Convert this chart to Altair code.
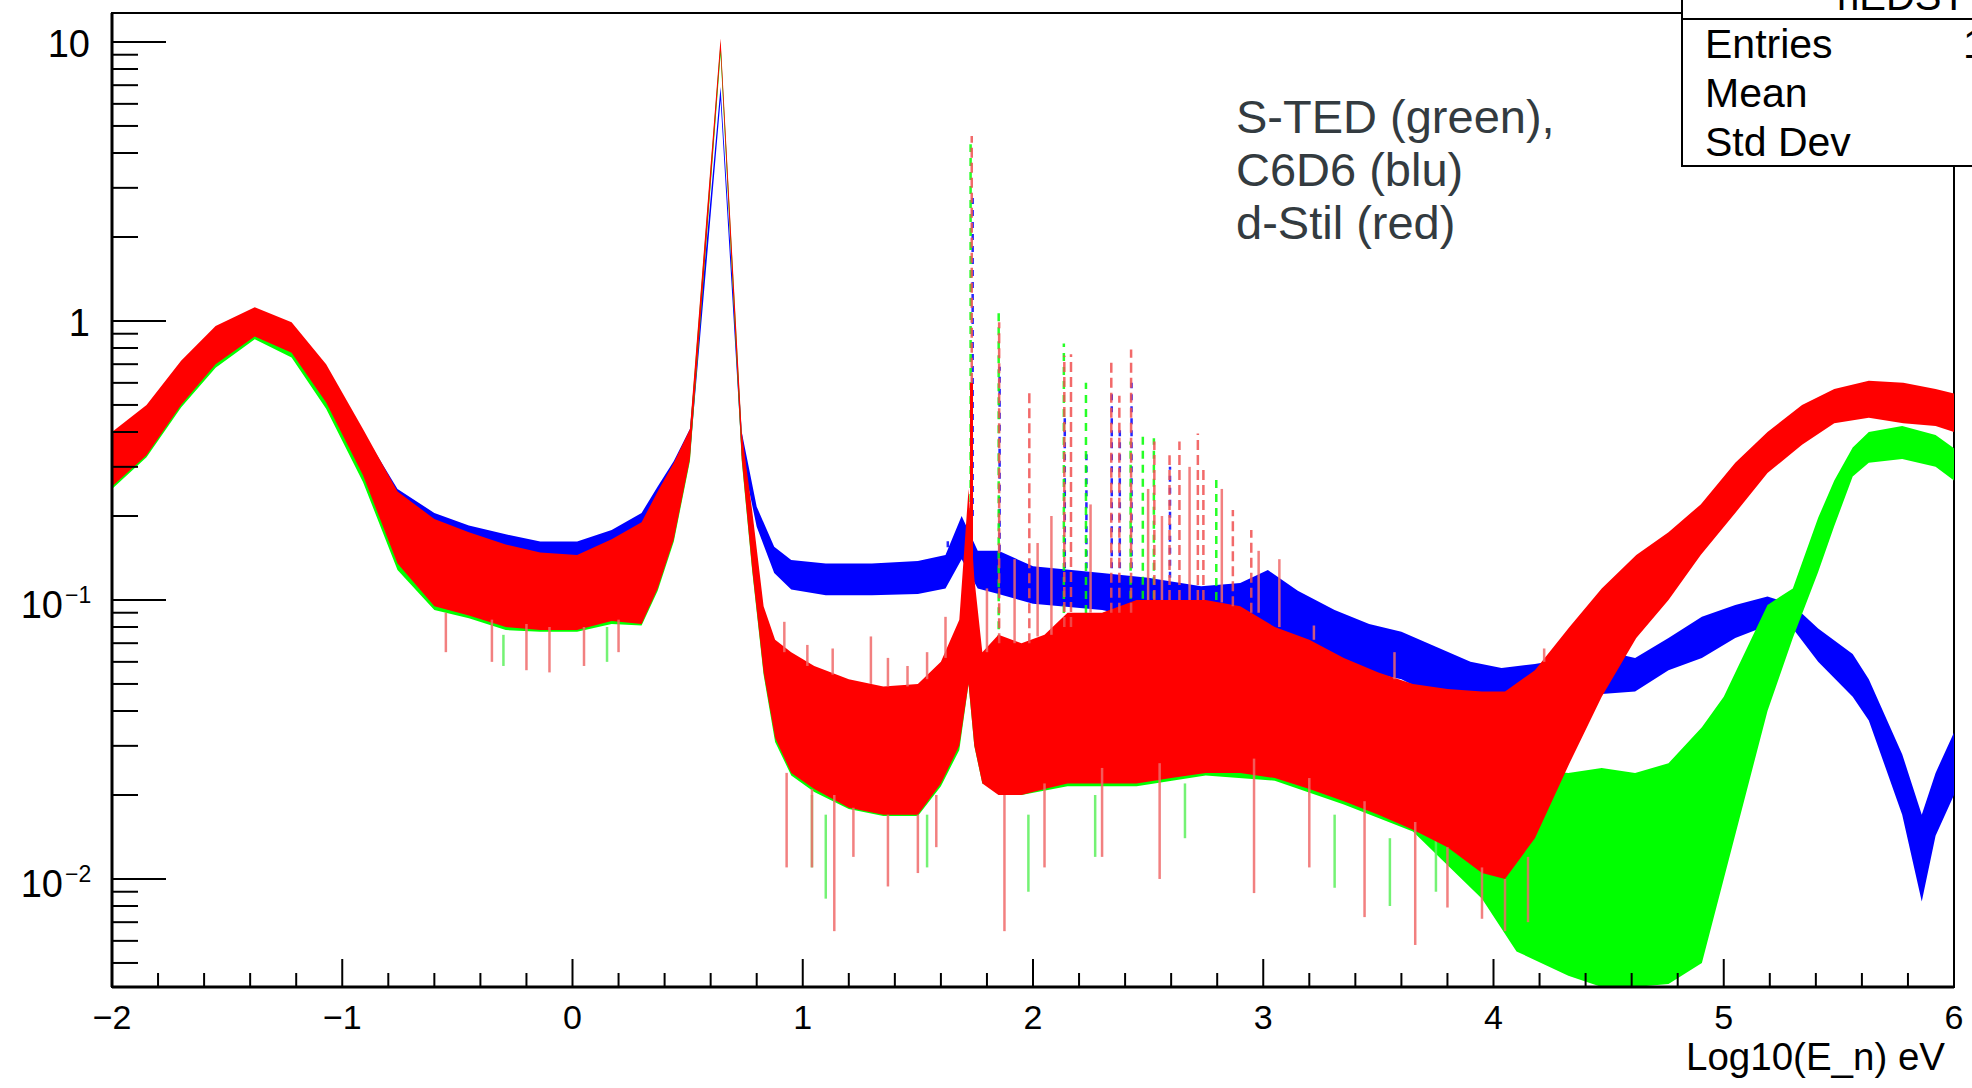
import altair as alt
import pandas as pd

# ---------------- data ----------------
# d-Stil (red): x = log10(E_n), band lower / upper edge
red_x  = [-2.00, -1.85, -1.70, -1.55, -1.38, -1.22, -1.07, -0.91, -0.76, -0.60, -0.45, -0.29, -0.14, 0.02, 0.17, 0.30, 0.37, 0.44, 0.51, 0.643, 0.735, 0.78, 0.83, 0.88, 0.95, 1.05, 1.20, 1.35, 1.50, 1.60, 1.68, 1.72, 1.745, 1.78, 1.85, 1.95, 2.05, 2.15, 2.30, 2.45, 2.60, 2.75, 2.90, 3.05, 3.20, 3.35, 3.50, 3.65, 3.80, 3.95, 4.05, 4.18, 4.33, 4.47, 4.62, 4.76, 4.90, 5.05, 5.19, 5.34, 5.48, 5.63, 5.78, 5.92, 6.00]
red_lo = [0.255, 0.33, 0.50, 0.70, 0.88, 0.77, 0.51, 0.28, 0.135, 0.095, 0.088, 0.080, 0.078, 0.078, 0.084, 0.082, 0.11, 0.165, 0.32, 9.3, 0.32, 0.13, 0.055, 0.032, 0.024, 0.021, 0.018, 0.017, 0.017, 0.022, 0.030, 0.05, 0.03, 0.022, 0.020, 0.020, 0.021, 0.022, 0.022, 0.022, 0.023, 0.024, 0.024, 0.023, 0.021, 0.019, 0.017, 0.015, 0.013, 0.0105, 0.0100, 0.014, 0.026, 0.045, 0.073, 0.10, 0.145, 0.205, 0.285, 0.36, 0.43, 0.45, 0.43, 0.42, 0.40]
red_hi = [0.40, 0.50, 0.72, 0.96, 1.12, 0.99, 0.70, 0.41, 0.245, 0.195, 0.175, 0.158, 0.148, 0.145, 0.165, 0.19, 0.245, 0.31, 0.41, 10.3, 0.40, 0.21, 0.095, 0.072, 0.065, 0.058, 0.052, 0.049, 0.050, 0.060, 0.085, 0.25, 0.12, 0.065, 0.075, 0.070, 0.075, 0.090, 0.090, 0.100, 0.100, 0.100, 0.095, 0.080, 0.072, 0.062, 0.055, 0.050, 0.048, 0.047, 0.047, 0.056, 0.080, 0.110, 0.145, 0.175, 0.22, 0.31, 0.40, 0.50, 0.57, 0.61, 0.60, 0.57, 0.55]

# C6D6 (blue)
blue_x  = [-2.00, -1.85, -1.70, -1.55, -1.38, -1.22, -1.07, -0.91, -0.76, -0.60, -0.45, -0.29, -0.14, 0.02, 0.17, 0.30, 0.37, 0.44, 0.51, 0.643, 0.735, 0.80, 0.876, 0.95, 1.10, 1.30, 1.50, 1.62, 1.69, 1.76, 1.85, 2.00, 2.30, 2.50, 2.73, 2.90, 3.02, 3.15, 3.31, 3.46, 3.60, 3.75, 3.90, 4.035, 4.18, 4.33, 4.47, 4.615, 4.76, 4.905, 5.05, 5.19, 5.30, 5.41, 5.56, 5.63, 5.775, 5.86, 5.92, 6.00]
blue_lo = [0.27, 0.34, 0.52, 0.72, 0.90, 0.78, 0.52, 0.30, 0.19, 0.155, 0.14, 0.13, 0.122, 0.123, 0.135, 0.16, 0.20, 0.25, 0.33, 6.2, 0.33, 0.183, 0.125, 0.109, 0.104, 0.104, 0.105, 0.11, 0.14, 0.11, 0.105, 0.097, 0.092, 0.085, 0.080, 0.080, 0.082, 0.068, 0.060, 0.055, 0.052, 0.045, 0.042, 0.041, 0.043, 0.045, 0.046, 0.047, 0.056, 0.062, 0.073, 0.081, 0.079, 0.060, 0.045, 0.037, 0.017, 0.0083, 0.0143, 0.020]
blue_hi = [0.39, 0.48, 0.70, 0.95, 1.10, 0.97, 0.68, 0.40, 0.25, 0.205, 0.185, 0.172, 0.162, 0.162, 0.178, 0.205, 0.255, 0.315, 0.41, 6.9, 0.40, 0.216, 0.155, 0.139, 0.135, 0.135, 0.138, 0.145, 0.20, 0.15, 0.15, 0.132, 0.125, 0.12, 0.112, 0.115, 0.128, 0.108, 0.092, 0.082, 0.077, 0.068, 0.060, 0.057, 0.059, 0.062, 0.066, 0.062, 0.073, 0.087, 0.096, 0.103, 0.096, 0.079, 0.064, 0.052, 0.028, 0.017, 0.024, 0.0335]

# S-TED (green) - mostly hidden below red except above 4
green_x  = [-2.00, -1.85, -1.70, -1.55, -1.38, -1.22, -1.07, -0.91, -0.76, -0.60, -0.45, -0.29, -0.14, 0.02, 0.17, 0.30, 0.37, 0.44, 0.51, 0.643, 0.735, 0.78, 0.83, 0.88, 0.95, 1.05, 1.20, 1.35, 1.50, 1.60, 1.68, 1.72, 1.745, 1.78, 1.95, 2.15, 2.45, 2.75, 3.05, 3.35, 3.65, 3.95, 4.10, 4.325, 4.47, 4.615, 4.76, 4.905, 5.00, 5.19, 5.30, 5.41, 5.48, 5.56, 5.63, 5.775, 5.92, 6.00]
green_lo = [0.25, 0.325, 0.49, 0.68, 0.86, 0.74, 0.485, 0.265, 0.128, 0.092, 0.086, 0.078, 0.077, 0.077, 0.082, 0.081, 0.108, 0.162, 0.315, 9.0, 0.315, 0.128, 0.054, 0.031, 0.0235, 0.0205, 0.0178, 0.0168, 0.0168, 0.0215, 0.029, 0.05, 0.03, 0.022, 0.020, 0.0215, 0.0215, 0.0235, 0.0225, 0.0185, 0.0148, 0.0085, 0.0055, 0.0045, 0.0041, 0.0041, 0.0042, 0.005, 0.010, 0.040, 0.073, 0.126, 0.184, 0.277, 0.31, 0.32, 0.30, 0.268]
green_hi = [0.37, 0.46, 0.66, 0.90, 1.05, 0.93, 0.65, 0.38, 0.23, 0.18, 0.165, 0.15, 0.14, 0.135, 0.155, 0.18, 0.23, 0.30, 0.40, 10.0, 0.39, 0.20, 0.09, 0.068, 0.06, 0.054, 0.048, 0.046, 0.046, 0.055, 0.08, 0.20, 0.10, 0.06, 0.065, 0.085, 0.095, 0.095, 0.075, 0.058, 0.046, 0.040, 0.025, 0.024, 0.025, 0.024, 0.026, 0.035, 0.045, 0.096, 0.11, 0.197, 0.268, 0.352, 0.40, 0.42, 0.39, 0.35]

# resonance spikes: position, foot, top
red_spk_x   = [1.734, 1.853, 1.984, 2.136, 2.165, 2.34, 2.375, 2.426, 2.527, 2.593, 2.636, 2.716, 2.74, 2.868, 2.948]
red_spk_lo  = [0.6, 0.07, 0.07, 0.08, 0.08, 0.09, 0.09, 0.09, 0.10, 0.10, 0.10, 0.10, 0.10, 0.095, 0.09]
red_spk_hi  = [4.6, 0.99, 0.56, 0.75, 0.76, 0.72, 0.54, 0.79, 0.37, 0.33, 0.37, 0.395, 0.30, 0.21, 0.178]
red_line_x  = [1.733]
red_line_lo = [0.12]
red_line_hi = [0.6]
green_spk_x  = [1.729, 1.851, 2.134, 2.23, 2.424, 2.477, 2.525, 2.796]
green_spk_lo = [0.2, 0.07, 0.08, 0.08, 0.09, 0.09, 0.09, 0.10]
green_spk_hi = [4.3, 1.08, 0.83, 0.60, 0.37, 0.385, 0.38, 0.27]
blue_spk_x  = [1.738, 1.855, 2.138, 2.232, 2.342, 2.377, 2.428, 2.595, 1.63]
blue_spk_lo = [0.2, 0.15, 0.13, 0.13, 0.13, 0.13, 0.13, 0.12, 0.14]
blue_spk_hi = [2.8, 0.685, 0.47, 0.35, 0.55, 0.41, 0.60, 0.30, 0.169]

# upward fluctuations of the red band: position, foot, top
red_up_x  = [0.92, 1.02, 1.13, 1.296, 1.37, 1.455, 1.54, 1.62, 1.80, 1.92, 2.02, 2.08, 2.25, 2.50, 2.56, 2.68, 2.82, 2.98, 3.07, 3.22, 3.57, 4.22]
red_up_lo = [0.065, 0.058, 0.054, 0.05, 0.049, 0.049, 0.052, 0.062, 0.065, 0.07, 0.074, 0.075, 0.09, 0.1, 0.1, 0.1, 0.098, 0.09, 0.08, 0.072, 0.052, 0.06]
red_up_hi = [0.0835, 0.069, 0.067, 0.074, 0.062, 0.058, 0.065, 0.087, 0.11, 0.14, 0.16, 0.20, 0.22, 0.25, 0.20, 0.30, 0.25, 0.15, 0.14, 0.081, 0.065, 0.067]

# downward fluctuations: position, bottom, top
red_dip_x  = [-0.55, -0.35, -0.20, -0.10, 0.05, 0.20, 0.93, 1.04, 1.137, 1.22, 1.37, 1.50, 1.58, 1.876, 2.05, 2.30, 2.55, 2.96, 3.20, 3.44, 3.66, 3.80, 3.95, 4.05, 4.15]
red_dip_lo = [0.065, 0.060, 0.056, 0.055, 0.058, 0.065, 0.011, 0.011, 0.0065, 0.012, 0.0094, 0.0105, 0.013, 0.0065, 0.011, 0.012, 0.010, 0.0089, 0.011, 0.0073, 0.0058, 0.0079, 0.0072, 0.0065, 0.007]
red_dip_hi = [0.09, 0.085, 0.082, 0.08, 0.08, 0.085, 0.024, 0.021, 0.02, 0.018, 0.017, 0.017, 0.02, 0.02, 0.022, 0.025, 0.026, 0.027, 0.023, 0.019, 0.016, 0.013, 0.011, 0.010, 0.012]
green_dip_x  = [-0.30, 0.15, 1.04, 1.10, 1.54, 1.98, 2.27, 2.66, 3.31, 3.55, 3.75]
green_dip_lo = [0.058, 0.060, 0.011, 0.0085, 0.011, 0.009, 0.012, 0.014, 0.0093, 0.008, 0.009]
green_dip_hi = [0.075, 0.08, 0.02, 0.017, 0.017, 0.017, 0.02, 0.022, 0.017, 0.014, 0.014]

# axes
x_major = [-2, -1, 0, 1, 2, 3, 4, 5, 6]
x_major_labels = ["\u22122", "\u22121", "0", "1", "2", "3", "4", "5", "6"]
x_minor = [-1.8, -1.6, -1.4, -1.2, -0.8, -0.6, -0.4, -0.2, 0.2, 0.4, 0.6, 0.8, 1.2, 1.4, 1.6, 1.8,
           2.2, 2.4, 2.6, 2.8, 3.2, 3.4, 3.6, 3.8, 4.2, 4.4, 4.6, 4.8, 5.2, 5.4, 5.6, 5.8]
y_major = [10, 1, 0.1, 0.01]
y_minor = [9, 8, 7, 6, 5, 4, 3, 2, 0.9, 0.8, 0.7, 0.6, 0.5, 0.4, 0.3, 0.2,
           0.09, 0.08, 0.07, 0.06, 0.05, 0.04, 0.03, 0.02, 0.009, 0.008, 0.007, 0.006, 0.005]
y_plain_vals = [10, 1]
y_plain_text = ["10", "1"]
y_exp_vals = [0.1, 0.01]
y_exp_base = ["10", "10"]
y_exp_text = ["\u22121", "\u22122"]

x_title = "Log10(E_n) eV"
note_lines = ["S-TED (green),", "C6D6 (blu)", "d-Stil (red)"]
stats_title = "hEDST"
stats_rows = ["Entries", "Mean", "Std Dev"]

# ---------------- chart ----------------
W, H = 1842, 974
FONT = "Liberation Sans"
xs = alt.Scale(domain=[-2, 6], nice=False, zero=False)
ys = alt.Scale(type="log", domain=[0.0041, 12.7], nice=False)
RED, BLUE, GREEN = "#ff0000", "#0000ff", "#00ff00"


def band(xv, lo, hi, color):
    df = pd.DataFrame({"x": xv, "lo": lo, "hi": hi})
    return alt.Chart(df).mark_area(color=color, clip=True, opacity=1).encode(
        x=alt.X("x:Q", scale=xs, axis=None),
        y=alt.Y("lo:Q", scale=ys, axis=None),
        y2="hi:Q",
    )


def rules(xv, lo, hi, color, width, dash=None, opacity=0.85):
    df = pd.DataFrame({"x": xv, "lo": lo, "hi": hi})
    kw = dict(color=color, strokeWidth=width, clip=True, opacity=opacity)
    if dash:
        kw["strokeDash"] = dash
    return alt.Chart(df).mark_rule(**kw).encode(
        x=alt.X("x:Q", scale=xs, axis=None),
        y=alt.Y("lo:Q", scale=ys, axis=None),
        y2="hi:Q",
    )


def text_at(x, y, s, size, align="left", color="black"):
    df = pd.DataFrame({"t": [s]})
    return alt.Chart(df).mark_text(
        align=align, baseline="alphabetic", font=FONT, fontSize=size, color=color
    ).encode(x=alt.value(x), y=alt.value(y), text="t:N")


layers = [
    band(blue_x, blue_lo, blue_hi, BLUE),
    rules(blue_spk_x, blue_spk_lo, blue_spk_hi, BLUE, 2.5, [6, 6]),
    band(green_x, green_lo, green_hi, GREEN),
    rules(green_dip_x, green_dip_lo, green_dip_hi, "#5cf05c", 2.5),
    rules(green_spk_x, green_spk_lo, green_spk_hi, GREEN, 2.5, [8, 6]),
    band(red_x, red_lo, red_hi, RED),
    rules(red_dip_x, red_dip_lo, red_dip_hi, "#f06a6a", 2.5),
    rules(red_up_x, red_up_lo, red_up_hi, "#f06a6a", 2.5),
    rules(red_line_x, red_line_lo, red_line_hi, RED, 3, opacity=1),
    rules(red_spk_x, red_spk_lo, red_spk_hi, "#f05050", 2.5, [10, 5]),
]

# axis lines
layers.append(alt.Chart(pd.DataFrame({"v": [0]})).mark_rule(color="black", strokeWidth=3).encode(
    x=alt.value(0), x2=alt.value(W), y=alt.value(H)))
layers.append(alt.Chart(pd.DataFrame({"v": [0]})).mark_rule(color="black", strokeWidth=3).encode(
    x=alt.value(0), y=alt.value(0), y2=alt.value(H)))

# y ticks (inside)
layers.append(alt.Chart(pd.DataFrame({"v": y_major})).mark_rule(color="black", strokeWidth=2).encode(
    y=alt.Y("v:Q", scale=ys, axis=None), x=alt.value(0), x2=alt.value(54)))
layers.append(alt.Chart(pd.DataFrame({"v": y_minor})).mark_rule(color="black", strokeWidth=2).encode(
    y=alt.Y("v:Q", scale=ys, axis=None), x=alt.value(0), x2=alt.value(26)))
# x ticks (inside)
layers.append(alt.Chart(pd.DataFrame({"v": x_major})).mark_rule(color="black", strokeWidth=2).encode(
    x=alt.X("v:Q", scale=xs, axis=None), y=alt.value(H), y2=alt.value(H - 28)))
layers.append(alt.Chart(pd.DataFrame({"v": x_minor})).mark_rule(color="black", strokeWidth=2).encode(
    x=alt.X("v:Q", scale=xs, axis=None), y=alt.value(H), y2=alt.value(H - 14)))

# x labels
layers.append(alt.Chart(pd.DataFrame({"v": x_major, "t": x_major_labels})).mark_text(
    align="center", baseline="alphabetic", font=FONT, fontSize=34, color="black").encode(
    x=alt.X("v:Q", scale=xs, axis=None), y=alt.value(1016), text="t:N"))

# y labels
layers.append(alt.Chart(pd.DataFrame({"v": y_plain_vals, "t": y_plain_text})).mark_text(
    align="right", baseline="alphabetic", font=FONT, fontSize=38, color="black", dy=15).encode(
    y=alt.Y("v:Q", scale=ys, axis=None), x=alt.value(-22), text="t:N"))
layers.append(alt.Chart(pd.DataFrame({"v": y_exp_vals, "t": y_exp_base})).mark_text(
    align="right", baseline="alphabetic", font=FONT, fontSize=38, color="black", dy=18).encode(
    y=alt.Y("v:Q", scale=ys, axis=None), x=alt.value(-49), text="t:N"))
layers.append(alt.Chart(pd.DataFrame({"v": y_exp_vals, "t": y_exp_text})).mark_text(
    align="left", baseline="alphabetic", font=FONT, fontSize=23, color="black", dy=3).encode(
    y=alt.Y("v:Q", scale=ys, axis=None), x=alt.value(-47), text="t:N"))

# axis title
layers.append(text_at(1833, 1057, x_title, 38.5, align="right"))

# annotation
for i, line in enumerate(note_lines):
    layers.append(text_at(1124, 120 + 53 * i, line, 47, color="#333b40"))

# stats box (partly outside the canvas, as in the reference)
layers.append(alt.Chart(pd.DataFrame({"v": [0]})).mark_rect(
    fill="white", stroke="black", strokeWidth=2).encode(
    x=alt.value(1570), x2=alt.value(1880), y=alt.value(-30), y2=alt.value(153)))
layers.append(alt.Chart(pd.DataFrame({"v": [0]})).mark_rule(color="black", strokeWidth=2).encode(
    x=alt.value(1570), x2=alt.value(1880), y=alt.value(6)))
layers.append(text_at(1725, -3, stats_title, 40))
for i, row in enumerate(stats_rows):
    layers.append(text_at(1593, 45 + 49 * i, row, 41))
layers.append(text_at(1851, 45, "1", 41))

chart = alt.layer(*layers).properties(
    width=W, height=H,
    autosize=alt.AutoSizeParams(type="none"),
    padding={"left": 112, "top": 13, "right": 18, "bottom": 101},
    background="white",
).configure_view(stroke="black", strokeWidth=2)

chart.save("out.html", embed_options={"renderer": "svg", "actions": False})
